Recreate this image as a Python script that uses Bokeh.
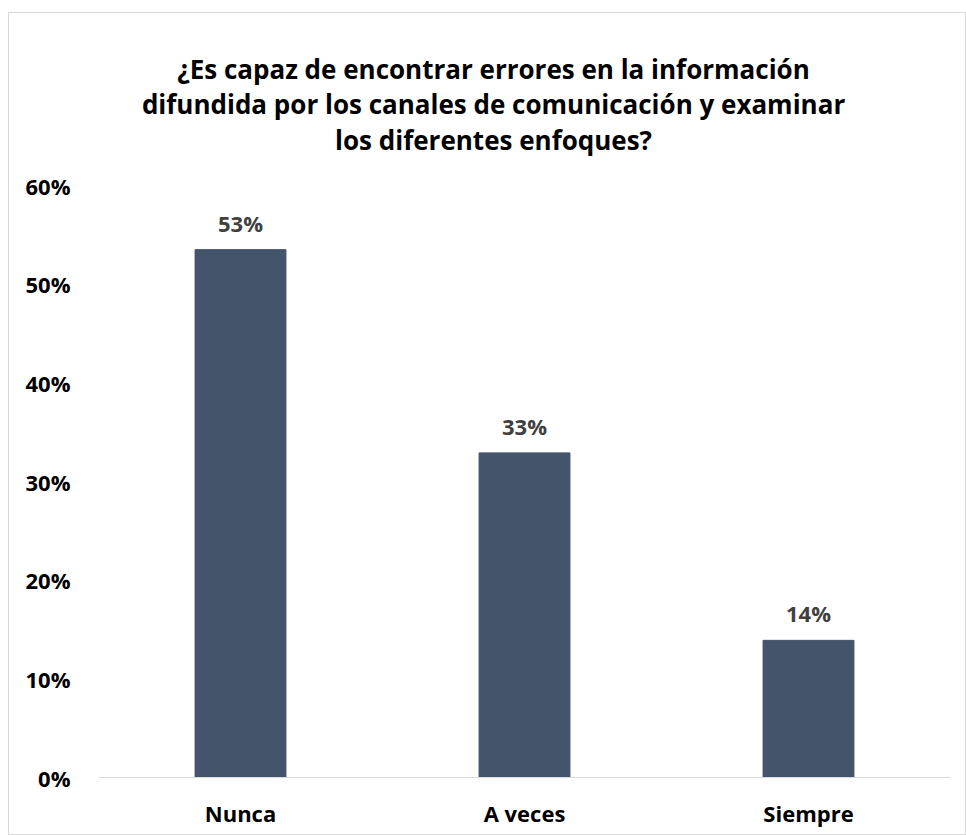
from bokeh.plotting import figure
from bokeh.models import ColumnDataSource, NumeralTickFormatter, FixedTicker, Range1d, Label
from bokeh.core.properties import value
from bokeh.embed import file_html
from bokeh.resources import INLINE

categories = ["Nunca", "A veces", "Siempre"]
values = [0.535, 0.329, 0.139]
data_labels = ["53%", "33%", "14%"]
y_ticks = [0.0, 0.1, 0.2, 0.3, 0.4, 0.5, 0.6]
title_lines = ["¿Es capaz de encontrar errores en la información",
               "difundida por los canales de comunicación y examinar",
               "los diferentes enfoques?"]

FONT = "Open Sans"
src = ColumnDataSource(dict(cat=categories, val=values, lab=data_labels))

# frame spans from near the top of the chart box down to the axis; the value
# axis shows 0..60% in the lower part, the title sits in the upper part
FRAME_H = 823 - 8 - 59
AXIS_H = 592
y_end = 0.6 * FRAME_H / AXIS_H

p = figure(x_range=categories, y_range=Range1d(0, y_end), width=958, height=823,
           output_backend="svg", toolbar_location=None,
           min_border_left=89, min_border_right=17, min_border_top=8, min_border_bottom=59)
p.margin = (12, 0, 0, 8)
p.styles = {"border": "1px solid #d9d9d9", "box-sizing": "border-box"}

px_per_unit = AXIS_H / 0.6
title_baselines_px = [709, 674, 638]   # distance of each title baseline above the axis line
title_cx = 1.391                        # horizontal centre of the chart box in category units
for txt, b in zip(title_lines, title_baselines_px):
    p.add_layout(Label(x=title_cx, y=b / px_per_unit, text=txt, text_align="center",
                       text_baseline="alphabetic", text_font=FONT, text_font_size="26px",
                       text_font_style="bold", text_color="#000000"))

p.vbar(x="cat", top="val", width=0.32, source=src, color="#44546A")
p.text(x="cat", y="val", text="lab", source=src, text_align="center", text_baseline="alphabetic",
       y_offset=-27, text_font=value(FONT), text_font_size="22px", text_font_style="bold",
       text_color="#404040")

p.outline_line_color = None
p.grid.visible = False
p.background_fill_color = "white"

p.yaxis.ticker = FixedTicker(ticks=y_ticks)
p.yaxis.formatter = NumeralTickFormatter(format="0%")
p.yaxis.axis_line_color = None
p.yaxis.major_tick_line_color = None
p.yaxis.minor_tick_line_color = None
p.yaxis.major_label_standoff = 22

p.xaxis.axis_line_color = "#d9d9d9"
p.xaxis.axis_line_width = 1
p.xaxis.major_tick_line_color = None
p.xaxis.minor_tick_line_color = None
p.xaxis.major_label_standoff = 14

for ax in (p.xaxis, p.yaxis):
    ax.major_label_text_font = FONT
    ax.major_label_text_font_size = "22px"
    ax.major_label_text_font_style = "bold"
    ax.major_label_text_color = "#000000"

p.x_range.range_padding = 0.0

open("out.html", "w").write(file_html(p, INLINE))
